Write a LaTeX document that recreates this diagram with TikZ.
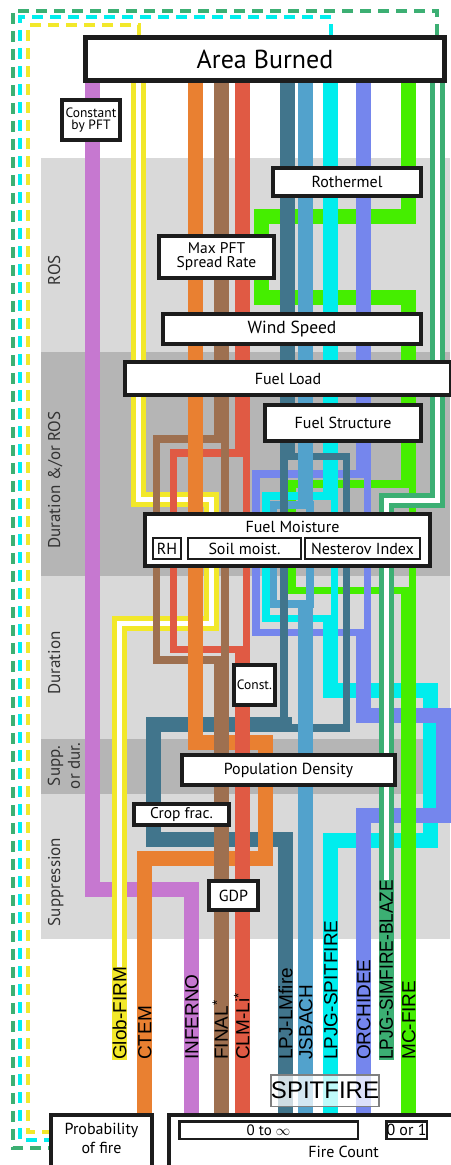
\documentclass[tikz,border=0pt]{standalone}
\usepackage{fontspec}
\setmainfont{PT Sans}
\newfontfamily\modelfont{Liberation Sans}
\usepackage{tikz}
\usetikzlibrary{backgrounds}
\usepackage{xcolor}
\definecolor{bandlight}{RGB}{217,217,217}
\definecolor{banddark}{RGB}{181,181,181}
\definecolor{bandtext}{RGB}{51,51,51}
\definecolor{boxline}{RGB}{28,28,28}
\definecolor{infernocolor}{RGB}{198,120,208}
\definecolor{globcolor}{RGB}{242,232,42}
\definecolor{ctemcolor}{RGB}{233,128,49}
\definecolor{finalcolor}{RGB}{158,112,80}
\definecolor{clmcolor}{RGB}{224,90,68}
\definecolor{lmfirecolor}{RGB}{65,117,140}
\definecolor{jsbachcolor}{RGB}{82,162,204}
\definecolor{spitcolor}{RGB}{0,237,237}
\definecolor{orchcolor}{RGB}{117,134,237}
\definecolor{blazecolor}{RGB}{60,175,115}
\definecolor{mccolor}{RGB}{69,238,0}

\begin{document}
\begin{tikzpicture}[x=1pt, y=-1pt, line join=miter,
        fat/.style={line width=15pt},
        slim/.style={line width=7.5pt},
        twin/.style={draw=#1, double=white, line width=5pt, double distance=5pt},
        linkline/.style={draw=#1, line width=3.5pt, dash pattern=on 11pt off 7pt},
        box/.style={draw=boxline, fill=white, line width=4pt, inner sep=0pt, align=center,
                font=\fontsize{16}{16}\selectfont},
        subbox/.style={box, line width=2pt},
        bandfont/.style={rotate=90, inner sep=0pt, text=bandtext, font=\fontsize{17}{20}\selectfont},
        band/.style={bandfont, text height=12pt, text depth=0pt},
        model/.style={rotate=90, anchor=west, inner xsep=0pt, inner ysep=0.7pt,
                text height=13.6pt, text depth=0pt, font=\modelfont\fontsize{19}{19}\selectfont}]
        \useasboundingbox (0,0) rectangle (450,1165);

        % Boxes {{{
        \node[box, line width=5pt, minimum width=359pt, minimum height=43pt,
                font=\fontsize{26}{26}\selectfont] (area) at (265,59) {Area Burned};
        \node[box, minimum width=58pt, minimum height=40pt,
                font=\fontsize{13.5}{12}\selectfont] (pft) at (91,120) {Constant\\by PFT};
        \node[box, minimum width=148pt, minimum height=28pt] (rothermel) at (347,182) {Rothermel};
        \node[box, minimum width=115pt, minimum height=42pt,
                font=\fontsize{15.5}{14}\selectfont] (maxrate) at (216.5,257) {Max PFT\\Spread Rate};
        \node[box, minimum width=258pt, minimum height=30pt,
                font=\fontsize{17.5}{17.5}\selectfont] (wind) at (292,329) {Wind Speed};
        \node[box, minimum width=326pt, minimum height=33pt] (fuelload) at (288,378.5) {Fuel Load};
        \node[box, minimum width=156pt, minimum height=36pt] (fuelstruct) at (343,423) {Fuel Structure};
        \node[box, minimum width=285pt, minimum height=52pt] (moisture) at (287.5,540) {};
        \node[anchor=base, inner sep=0pt, font=\fontsize{16}{16}\selectfont] (moisttitle) at (292.5,532) {Fuel Moisture};
        \node[subbox, minimum width=28pt, minimum height=21pt] (rh) at (167,548.5) {RH};
        \node[subbox, minimum width=113pt, minimum height=21pt] (soil) at (244.5,548.5) {Soil moist.};
        \node[subbox, minimum width=115pt, minimum height=21pt] (nesterov) at (362.5,548.5) {Nesterov Index};
        \node[box, minimum width=41pt, minimum height=40pt,
                font=\fontsize{13.5}{13.5}\selectfont] (const) at (254.5,685) {Const.};
        \node[box, minimum width=213pt, minimum height=30pt] (popdens) at (288.5,770) {Population Density};
        \node[box, minimum width=95pt, minimum height=21pt,
                font=\fontsize{15.5}{15.5}\selectfont] (crop) at (181.5,814.5) {Crop frac.};
        \node[box, minimum width=49pt, minimum height=29pt] (gdp) at (233.5,895.5) {GDP};
        % }}}

        % Outputs {{{
        \node[box, minimum width=101pt, minimum height=53pt] (prob) at (101.5,1141.5) {};
        \node[align=center, inner sep=0pt, font=\fontsize{16}{19}\selectfont] (probtext) at (101.5,1138) {Probability\\of fire};
        \node[box, minimum width=289pt, minimum height=53pt] (fire) at (313.5,1141.5) {};
        \node[subbox, line width=2.5pt, minimum width=178.5pt, minimum height=17.5pt,
                font=\fontsize{15}{15}\selectfont] (unbounded) at (268.5,1130) {0 to $\infty$};
        \node[subbox, line width=2.5pt, minimum width=40.5pt, minimum height=17.5pt] (binary) at (406.5,1130) {0 or 1};
        \node[anchor=base, inner sep=0pt, font=\fontsize{16}{16}\selectfont] (firecount) at (343.5,1157) {Fire Count};
        \node[draw=gray, line width=1.5pt, fill=white, fill opacity=0.75, text opacity=1,
                minimum width=104.5pt, minimum height=31.5pt, inner sep=0pt,
                font=\modelfont\fontsize{24}{24}\selectfont] (spitfire) at (325,1090.5) {SPITFIRE};
        % }}}

        % Model names {{{
        \node[model, fill=globcolor] (globlabel) at (119.5,1060) {Glob-FIRM};
        \node[model] (ctemlabel) at (144.5,1060) {CTEM};
        \node[model] (infernolabel) at (191.5,1060) {INFERNO};
        \node[model] (finallabel) at (221,1060) {FINAL\textsuperscript{*}};
        \node[model] (clmlabel) at (242.5,1060) {CLM-Li\textsuperscript{*}};
        \node[model] (lmfirelabel) at (285.5,1060) {LPJ-LMfire};
        \node[model] (jsbachlabel) at (305.5,1060) {JSBACH};
        \node[model] (spitlabel) at (330.5,1060) {LPJG-SPITFIRE};
        \node[model] (orchlabel) at (363.5,1060) {ORCHIDEE};
        \node[model, fill=blazecolor] (blazelabel) at (386,1060) {\scalebox{0.91}[1]{LPJG-SIMFIRE-BLAZE}};
        \node[model] (mclabel) at (408.5,1060) {MC-FIRE};
        % }}}

        \begin{scope}[on background layer]
        % Bands {{{
        \fill[bandlight] (41,158) rectangle (450,352);
        \fill[banddark] (41,352) rectangle (450,576);
        \fill[bandlight] (41,576) rectangle (450,739);
        \fill[banddark] (41,739) rectangle (450,794);
        \fill[bandlight] (41,794) rectangle (450,939);
        \node[band] (ros) at (54,270) {ROS};
        \node[band] (durros) at (54,480) {Duration \&/or ROS};
        \node[band] (dur) at (54,663) {Duration};
        \node[bandfont, align=center] (suppdur) at (64,766) {Supp.\\or dur.};
        \node[band] (supp) at (54,882) {Suppression};
        % }}}

        % Probability links {{{
        \draw[linkline=blazecolor] (437,0 |- area.north) -- (437,11) -- (13,11) -- (13,1148) -- (prob.west |- 0,1148);
        \draw[linkline=spitcolor] (331,0 |- area.north) -- (331,17) -- (20,17) -- (20,1140) -- (prob.west |- 0,1140);
        \draw[linkline=globcolor] (139,0 |- area.north) -- (139,25) -- (28,25) -- (28,1132) -- (prob.west |- 0,1132);
        % }}}

        % Model paths {{{
        \draw[fat, infernocolor] (92,0 |- area.south) -- (92,889) -- (191.5,889) -- (191.5,0 |- fire.north);
        \draw[twin=globcolor] (138,0 |- area.south) -- (138,499.5) -- (211,499.5) -- (211,623.5) -- (119.5,623.5) -- (globlabel.east);
        \draw[fat, mccolor] (408.5,0 |- area.south) -- (408.5,216.5) -- (261.5,216.5) -- (261.5,297.5) -- (408.5,297.5) -- (408.5,488);
        \draw[slim, mccolor] (292,484) rectangle (412.25,590.5);
        \draw[slim, orchcolor] (256,474) rectangle (367.25,632.5);
        \draw[slim, spitcolor] (266,496) rectangle (334.25,618.5);
        \draw[fat, spitcolor] (330.5,0 |- area.south) -- (330.5,500)
                (330.5,615) -- (330.5,690) -- (430,690) -- (430,840.5) -- (330.5,840.5) -- (330.5,0 |- fire.north);
        \draw[fat, orchcolor] (363.5,0 |- area.south) -- (363.5,478)
                (363.5,629) -- (363.5,715.5) -- (443.5,715.5) -- (443.5,815.5) -- (363.5,815.5) -- (363.5,0 |- fire.north);
        \draw[slim, jsbachcolor] (273.5,505) rectangle (309.75,604);
        \draw[slim, lmfirecolor] (283.75,456.5) rectangle (346.5,727.75);
        \draw[fat, lmfirecolor] (287.5,0 |- area.south) -- (287.5,460)
                (291.5,724) -- (153.5,724) -- (153.5,839) -- (285.5,839) -- (285.5,0 |- fire.north);
        \draw[fat, jsbachcolor] (305.5,0 |- area.south) -- (305.5,509) (305.5,600) -- (305.5,0 |- fire.north);
        \draw[twin=blazecolor] (437.5,0 |- area.south) -- (437.5,500) -- (386,500) -- (blazelabel.east);
        \draw[fat, mccolor] (408.5,297.5) -- (408.5,488) (408.5,587) -- (408.5,0 |- fire.north);
        \draw[fat, ctemcolor] (195,0 |- area.south) -- (195,742.5) -- (265.5,742.5) -- (265.5,858) -- (144.5,858) -- (144.5,0 |- prob.north);
        \draw[fat, clmcolor] (242.5,0 |- area.south) -- (242.5,457) (242.5,646) -- (242.5,0 |- fire.north);
        \draw[slim, clmcolor] (173.5,453) rectangle (246.25,649.5);
        \draw[fat, finalcolor] (221,0 |- area.south) -- (221,443) (221,656) -- (221,0 |- fire.north);
        \draw[slim, finalcolor] (156.5,439) rectangle (224.75,660);
        \draw[fat, ctemcolor] (195,0 |- area.south) -- (195,742.5); % orange on top of the loops
        % }}}
        \end{scope}
\end{tikzpicture}
\end{document}
